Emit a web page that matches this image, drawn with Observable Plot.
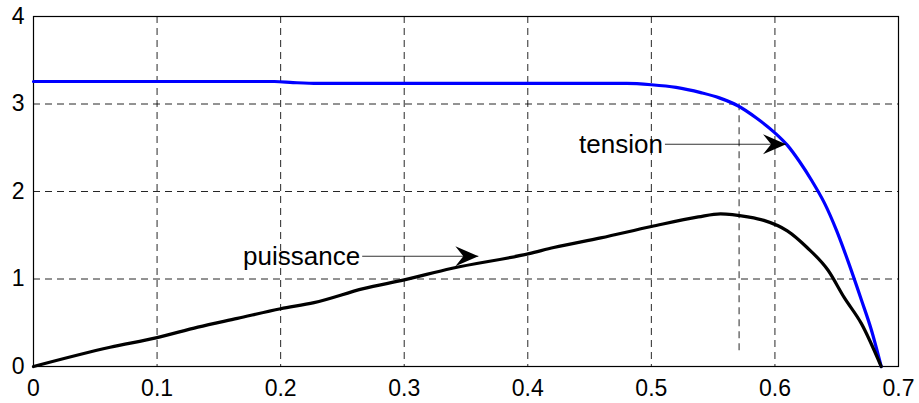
<!DOCTYPE html>
<html>
<head>
<meta charset="utf-8">
<script src="https://cdn.jsdelivr.net/npm/d3@7"></script>
<script src="https://cdn.jsdelivr.net/npm/@observablehq/plot@0.6"></script>
<style>
  html, body { margin: 0; padding: 0; background: #fff; }
  svg { display: block; }
</style>
</head>
<body>
<div id="chart"></div>
<script>
// Tick values
const xTicks = [0, 0.1, 0.2, 0.3, 0.4, 0.5, 0.6, 0.7];
const yTicks = [0, 1, 2, 3, 4];
const xGrid = [0.1, 0.2, 0.3, 0.4, 0.5, 0.6];
const yGrid = [1, 2, 3];

// Blue curve ("tension" label)
const tensionX = [0, 0.1, 0.195, 0.21, 0.23, 0.3, 0.4, 0.48, 0.5, 0.52, 0.54, 0.555, 0.57, 0.585, 0.6, 0.61, 0.62, 0.63, 0.64, 0.65, 0.66, 0.67, 0.678, 0.686];
const tensionY = [3.257, 3.257, 3.257, 3.245, 3.235, 3.235, 3.235, 3.235, 3.22, 3.19, 3.13, 3.07, 2.98, 2.84, 2.67, 2.53, 2.34, 2.12, 1.87, 1.55, 1.17, 0.76, 0.42, 0.0];

// Black curve ("puissance" label)
const puissanceX = [0, 0.062, 0.1, 0.133, 0.165, 0.2, 0.227, 0.267, 0.3, 0.338, 0.401, 0.421, 0.459, 0.5, 0.538, 0.556, 0.578, 0.591, 0.61, 0.626, 0.643, 0.656, 0.67, 0.686];
const puissanceY = [0, 0.22, 0.33, 0.45, 0.55, 0.66, 0.73, 0.89, 0.99, 1.12, 1.29, 1.36, 1.47, 1.60, 1.71, 1.745, 1.71, 1.67, 1.55, 1.36, 1.10, 0.79, 0.49, 0.0];

// Marker line at maximum power point
const mppX = [0.571];
const mppY1 = [0.18];
const mppY2 = [3.05];

// Annotations
const annLabels = ["tension", "puissance"];
const annX1 = [0.511, 0.266];
const annX2 = [0.609, 0.360];
const annY = [2.54, 1.26];

const tension = tensionX.map((x, i) => ({x, y: tensionY[i]}));
const puissance = puissanceX.map((x, i) => ({x, y: puissanceY[i]}));
const ann = annLabels.map((label, i) => ({label, x1: annX1[i], x2: annX2[i], y: annY[i]}));
const mpp = mppX.map((x, i) => ({x, y1: mppY1[i], y2: mppY2[i]}));

// Filled arrowhead (MATLAB vback2 style), tip at origin pointing right
const arrowHead = {
  draw(context, size) {
    context.moveTo(0, 0);
    context.lineTo(-23, -10);
    context.lineTo(-15, 0);
    context.lineTo(-23, 10);
    context.closePath();
  }
};

const dash = "7,5";
const font = "'Liberation Sans', Arial, sans-serif";

const chart = Plot.plot({
  width: 919,
  height: 403,
  marginLeft: 33,
  marginRight: 21,
  marginTop: 16,
  marginBottom: 37,
  style: {fontFamily: font, fontSize: "23px", background: "#fff", color: "#000", overflow: "visible"},
  x: {domain: [0, 0.7], axis: null},
  y: {domain: [0, 4], axis: null},
  marks: [
    Plot.ruleX(xGrid, {stroke: "#000", strokeWidth: 1, strokeOpacity: 0.85, strokeDasharray: dash}),
    Plot.ruleY(yGrid, {stroke: "#000", strokeWidth: 1, strokeOpacity: 0.85, strokeDasharray: dash}),
    Plot.ruleX(mpp, {x: "x", y1: "y1", y2: "y2", stroke: "#000", strokeWidth: 1, strokeOpacity: 0.85, strokeDasharray: dash}),
    Plot.text(xTicks, {x: d => d, frameAnchor: "bottom", lineAnchor: "middle", dy: 22, text: d => String(d), fontSize: 23, fontFamily: font, fill: "#000"}),
    Plot.text(yTicks, {y: d => d, frameAnchor: "left", textAnchor: "end", dx: -9, text: d => String(d), fontSize: 23, fontFamily: font, fill: "#000"}),
    Plot.frame({stroke: "#000", strokeWidth: 1.2}),
    Plot.line(tension, {x: "x", y: "y", stroke: "#0000ff", strokeWidth: 3.2, curve: "monotone-x"}),
    Plot.line(puissance, {x: "x", y: "y", stroke: "#000", strokeWidth: 3.2, curve: "monotone-x"}),
    Plot.link(ann, {x1: "x1", x2: "x2", y1: "y", y2: "y", stroke: "#000", strokeWidth: 1, strokeOpacity: 0.8}),
    Plot.dot(ann, {x: "x2", y: "y", symbol: arrowHead, r: 5, fill: "#000", stroke: "none"}),
    Plot.text(ann, {x: "x1", y: "y", text: "label", textAnchor: "end", dx: -2, fontSize: 26, fontFamily: font, fill: "#000"})
  ]
});
document.getElementById("chart").appendChild(chart);
</script>
</body>
</html>
